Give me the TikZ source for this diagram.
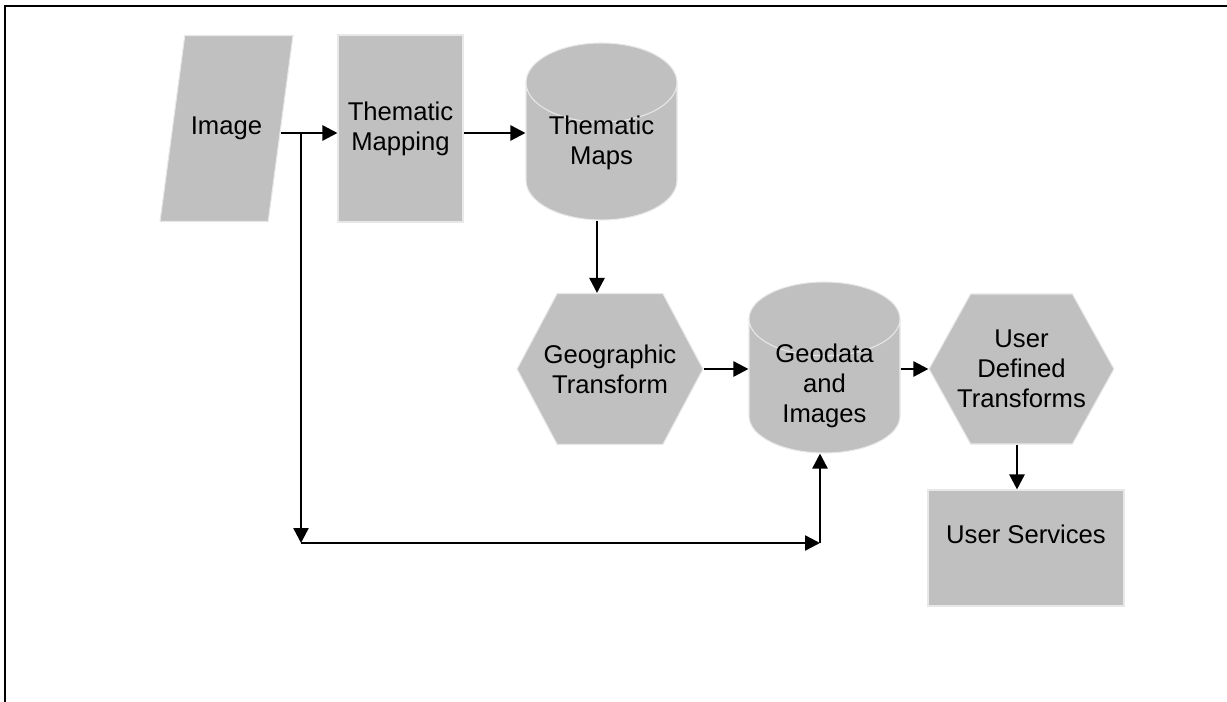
\documentclass[tikz,border=0pt]{standalone}
\usepackage{fontspec}
\setmainfont{Liberation Sans}
\usetikzlibrary{shapes.geometric,shapes.symbols,arrows.meta}
\definecolor{boxgray}{RGB}{192,192,192}
\definecolor{edgegray}{RGB}{232,232,232}

\begin{document}
\begin{tikzpicture}[
    font=\fontsize{14.6}{17}\selectfont,
    blockbase/.style={fill=boxgray, draw=edgegray, line width=0.6pt, inner sep=0pt, align=center},
    box/.style={blockbase, rectangle},
    datain/.style={blockbase, trapezium, trapezium left angle=82.4, trapezium right angle=97.6,
        trapezium stretches body=true},
    store/.style={blockbase, cylinder, shape border rotate=90, aspect=0.75, anchor=shape center},
    process/.style={blockbase, signal, signal to=west and east, signal pointer angle=124,
        inner xsep=-0.27cm},
    flow/.style={line width=1.4pt, -{Triangle[length=0.3cm,width=0.3cm]}}
]
    \useasboundingbox (0,0) rectangle (24.54,-14.04);

    % frame
    \draw[line width=1.4pt] (0.1,-14.1) -- (0.1,-0.12) -- (24.6,-0.12);

    % top row
    \node[datain, minimum width=2.66cm, inner ysep=1.63cm] (img) at (4.53,-2.57) {Image};
    \node[box, minimum width=2.5cm, minimum height=3.74cm] (map) at (8.01,-2.57) {Thematic\\Mapping};
    \node[store, minimum width=3.02cm, minimum height=3.54cm, text depth=0.45cm, inner ysep=-0.14cm] (tmaps) at (12.03,-2.63) {Thematic\\Maps};

    % middle row
    \node[process, minimum height=3.02cm] (geo) at (12.2,-7.38) {Geographic\\Transform};
    \node[store, minimum width=3.02cm, minimum height=3.42cm, inner ysep=-0.25cm] (gdata) at (16.49,-7.35) {Geodata\\and\\Images};
    \node[process, minimum height=3.0cm, signal pointer angle=122] (udt) at (20.43,-7.38) {User\\Defined\\Transforms};

    % output
    \node[box, minimum width=3.92cm, minimum height=2.32cm, text depth=0.55cm] (us) at (20.52,-10.96) {User Services};

    % connectors
    \coordinate (split) at (6.02,-2.66);
    \coordinate (lowleft) at (6.02,-10.86);
    \coordinate (lowright) at (16.4,-10.86);
    \draw[flow] (img.east |- split) -- (map.west |- split);
    \draw[flow] (map.east |- split) -- (tmaps.west |- split);
    \draw[flow] (tmaps.south -| 11.94,0) -- (geo.north -| 11.94,0);
    \draw[flow] (geo.east) -- (gdata.west |- geo.east);
    \draw[flow] (gdata.east |- udt.west) -- (udt.west);
    \draw[flow] (udt.south -| 20.34,0) -- (us.north -| 20.34,0);
    \draw[flow] (split) -- (lowleft);
    \draw[flow] (lowleft) -- (lowright);
    \draw[flow] (lowright) -- (lowright |- gdata.south);
\end{tikzpicture}
\end{document}
